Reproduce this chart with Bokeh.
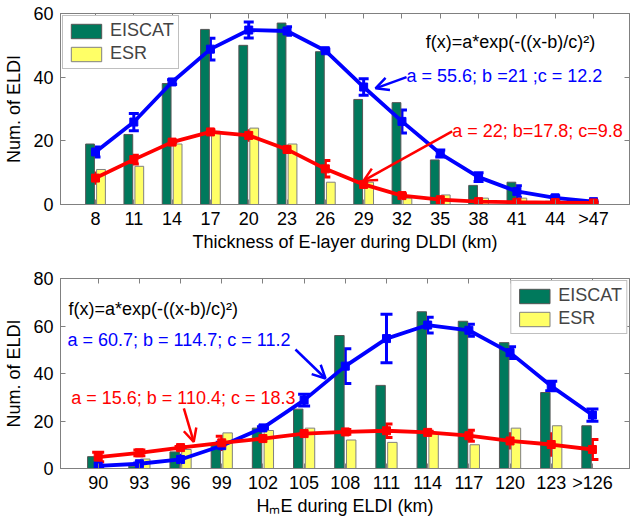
from bokeh.plotting import figure
from bokeh.models import (Range1d, FixedTicker, LinearAxis, Label, Arrow, OpenHead,
                          Whisker, TeeHead, ColumnDataSource)
from bokeh.layouts import column
from bokeh.embed import file_html
from bokeh.resources import INLINE

# ---------------- data: top panel (thickness of E-layer) ----------------
top_labels = ["8", "11", "14", "17", "20", "23", "26", "29", "32", "35", "38", "41", "44", ">47"]
top_eiscat = [19, 22, 38, 55, 50, 57, 48, 33, 32, 14, 6, 7, 1, 0]
top_esr = [11, 12, 19, 23, 24, 19, 7, 7, 2, 3, 2, 2, 1, 0]
top_fit_eiscat = [16.5, 25.9, 38.5, 48.8, 54.8, 54.5, 48.3, 36.9, 26.1, 16.0, 8.6, 4.1, 2.1, 0.9]
top_err_eiscat = [1.6, 2.7, 0.7, 3.4, 2.5, 1.3, 0.5, 2.6, 3.6, 1.1, 1.4, 1.8, 0.6, 0.3]
top_fit_esr = [8.3, 14.1, 19.6, 22.8, 21.7, 17.3, 11.2, 6.3, 2.8, 1.5, 0.9, 0.7, 0.6, 0.5]
top_err_esr = [1.6, 1.4, 0.5, 0.6, 1.5, 1.0, 2.6, 0.5, 0.5, 0.7, 0.5, 0.3, 0.5, 0.3]
top_yticks = [0, 20, 40, 60]

# ---------------- data: bottom panel (HmE) ----------------
bot_labels = ["90", "93", "96", "99", "102", "105", "108", "111", "114", "117", "120", "123", ">126"]
bot_eiscat = [5, 1, 7, 10, 17, 25, 56, 35, 66, 62, 53, 32, 18]
bot_esr = [0, 4, 8, 15, 16, 17, 12, 11, 15, 10, 17, 18, 0]
bot_fit_eiscat = [1.1, 2.0, 3.8, 9.6, 17.1, 28.8, 43.1, 54.7, 60.4, 58.2, 48.8, 34.7, 22.5]
bot_err_eiscat = [0.3, 0.3, 1.8, 1.5, 0.5, 2.5, 7.3, 10.2, 3.3, 2.5, 2.5, 2.0, 2.6]
bot_fit_esr = [4.8, 6.6, 8.8, 10.8, 12.6, 14.7, 15.4, 15.9, 15.2, 13.8, 11.6, 10.1, 8.0]
bot_err_esr = [2.0, 1.2, 0.5, 2.8, 1.0, 1.0, 1.0, 2.8, 0.5, 2.3, 3.0, 4.5, 4.2]
bot_yticks = [0, 20, 40, 60, 80]

formula = "f(x)=a*exp(-((x-b)/c)\u00b2)"
top_txt_blue = "a = 55.6; b =21 ;c = 12.2"
top_txt_red = "a = 22; b=17.8; c=9.8"
bot_txt_blue = "a = 60.7; b = 114.7; c = 11.2"
bot_txt_red = "a = 15.6; b = 110.4; c = 18.3"
ylabel = "Num. of ELDI"

FONT = "Liberation Sans"
FS = "18px"
GREEN = "#00795C"
YELLOW = "#FFFF66"
EDGE = "#555555"
AX = "#808080"
OFF = 0.143
BW = 0.229


def make_panel(labels, eiscat, esr, fit_e, err_e, fit_s, err_s, yticks,
               x_range, height, b_top, b_bottom, xlabel, legend_loc, cap):
    n = len(labels)
    idx = list(range(n))
    p = figure(width=632, height=height, output_backend="svg", toolbar_location=None,
               x_range=Range1d(*x_range), y_range=Range1d(yticks[0], yticks[-1]),
               min_border_left=60, min_border_right=3, min_border_top=b_top,
               min_border_bottom=b_bottom)
    p.xgrid.visible = False
    p.ygrid.visible = False
    p.outline_line_color = AX
    p.background_fill_color = "white"

    src = ColumnDataSource(dict(
        xe=[i - OFF for i in idx], xs=[i + OFF for i in idx], x=idx,
        e=eiscat, s=esr, fe=fit_e, fs=fit_s,
        ue=[a + b for a, b in zip(fit_e, err_e)], le=[a - b for a, b in zip(fit_e, err_e)],
        us=[a + b for a, b in zip(fit_s, err_s)], ls=[a - b for a, b in zip(fit_s, err_s)],
    ))
    p.vbar(x="xe", top="e", width=BW, bottom=0, source=src, fill_color=GREEN,
           line_color=EDGE, line_width=1, legend_label="EISCAT")
    p.vbar(x="xs", top="s", width=BW, bottom=0, source=src, fill_color=YELLOW,
           line_color=AX, line_width=1, legend_label="ESR")

    for col, fy, up, lo in (("#0000FF", "fe", "ue", "le"), ("#FF0000", "fs", "us", "ls")):
        p.line(x="x", y=fy, source=src, line_color=col, line_width=3.8)
        p.scatter(x="x", y=fy, source=src, marker="square", size=8,
                  fill_color=col, line_color=col)
        p.add_layout(Whisker(source=src, base="x", upper=up, lower=lo,
                             line_color=col, line_width=3,
                             upper_head=TeeHead(size=cap, line_color=col, line_width=3),
                             lower_head=TeeHead(size=cap, line_color=col, line_width=3)))

    # axes
    ticker = FixedTicker(ticks=idx)
    xa = p.xaxis[0]
    xa.ticker = ticker
    xa.major_label_overrides = {i: lab for i, lab in zip(idx, labels)}
    ya = p.yaxis[0]
    ya.ticker = FixedTicker(ticks=yticks)
    xa.axis_label = xlabel
    ya.axis_label = ylabel
    for ax in (xa, ya):
        ax.major_tick_in = 5
        ax.major_tick_out = 0
        ax.minor_tick_line_color = None
        ax.axis_line_color = AX
        ax.major_tick_line_color = AX
        ax.major_label_text_font = FONT
        ax.major_label_text_font_size = FS
        ax.major_label_text_color = "black"
        ax.axis_label_text_font = FONT
        ax.axis_label_text_font_size = FS
        ax.axis_label_text_font_style = "normal"
        ax.axis_label_text_color = "black"
    xa.major_label_standoff = 4
    xa.axis_label_standoff = 0
    ya.major_label_standoff = 7
    ya.axis_label_standoff = 6

    # tick marks on the top and right edges (no labels drawn)
    top_ax = LinearAxis(ticker=ticker, major_label_text_font_size="1px",
                        major_label_text_color=None,
                        major_label_standoff=0, major_tick_in=5, major_tick_out=0,
                        minor_tick_line_color=None, axis_line_color=AX,
                        major_tick_line_color=AX)
    right_ax = LinearAxis(ticker=FixedTicker(ticks=yticks), major_label_text_font_size="1px",
                          major_label_text_color=None,
                          major_label_standoff=0, major_tick_in=5, major_tick_out=0,
                          minor_tick_line_color=None, axis_line_color=AX,
                          major_tick_line_color=AX)
    p.add_layout(top_ax, "above")
    p.add_layout(right_ax, "right")

    lg = p.legend[0]
    lg.location = legend_loc
    lg.margin = 2
    lg.padding = 4
    lg.spacing = 2
    lg.glyph_width = 38
    lg.glyph_height = 18
    lg.label_standoff = 5
    lg.label_text_font = FONT
    lg.label_text_font_size = FS
    lg.label_height = 18
    lg.border_line_color = AX
    lg.border_line_width = 1
    lg.background_fill_alpha = 1
    return p


top = make_panel(top_labels, top_eiscat, top_esr, top_fit_eiscat, top_err_eiscat,
                 top_fit_esr, top_err_esr, top_yticks, (-0.914, 13.94), 254, 13, 50,
                 "Thickness of E-layer during DLDI (km)", "top_left", 10)
bot = make_panel(bot_labels, bot_eiscat, bot_esr, bot_fit_eiscat, bot_err_eiscat,
                 bot_fit_esr, bot_err_esr, bot_yticks, (-0.915, 12.90), 264, 24, 50,
                 "H\u2098E during ELDI (km)", "top_right", 12)


def lab(p, x, y, text, color):
    p.add_layout(Label(x=x, y=y, text=text, text_color=color, text_font=FONT,
                       text_font_size=FS, text_align="left", text_baseline="middle"))


def arrow(p, x0, y0, x1, y1, color):
    p.add_layout(Arrow(x_start=x0, y_start=y0, x_end=x1, y_end=y1, line_color=color,
                       line_width=2.5,
                       end=OpenHead(size=13, line_color=color, line_width=2.5)))


lab(top, 8.62, 51.0, formula, "black")
lab(top, 8.12, 40.3, top_txt_blue, "#0000FF")
lab(top, 9.31, 23.0, top_txt_red, "#FF0000")
arrow(top, 8.12, 40.0, 7.31, 36.5, "#0000FF")
arrow(top, 9.31, 23.0, 7.0, 7.5, "#FF0000")

lab(bot, -0.72, 67.1, formula, "black")
lab(bot, -0.745, 54.0, bot_txt_blue, "#0000FF")
lab(bot, -0.656, 29.5, bot_txt_red, "#FF0000")
arrow(bot, 4.79, 50.1, 5.52, 37.9, "#0000FF")
arrow(bot, 2.08, 25.3, 2.32, 11.2, "#FF0000")

layout = column(top, bot, spacing=0)
open("out.html", "w").write(file_html(layout, INLINE))
